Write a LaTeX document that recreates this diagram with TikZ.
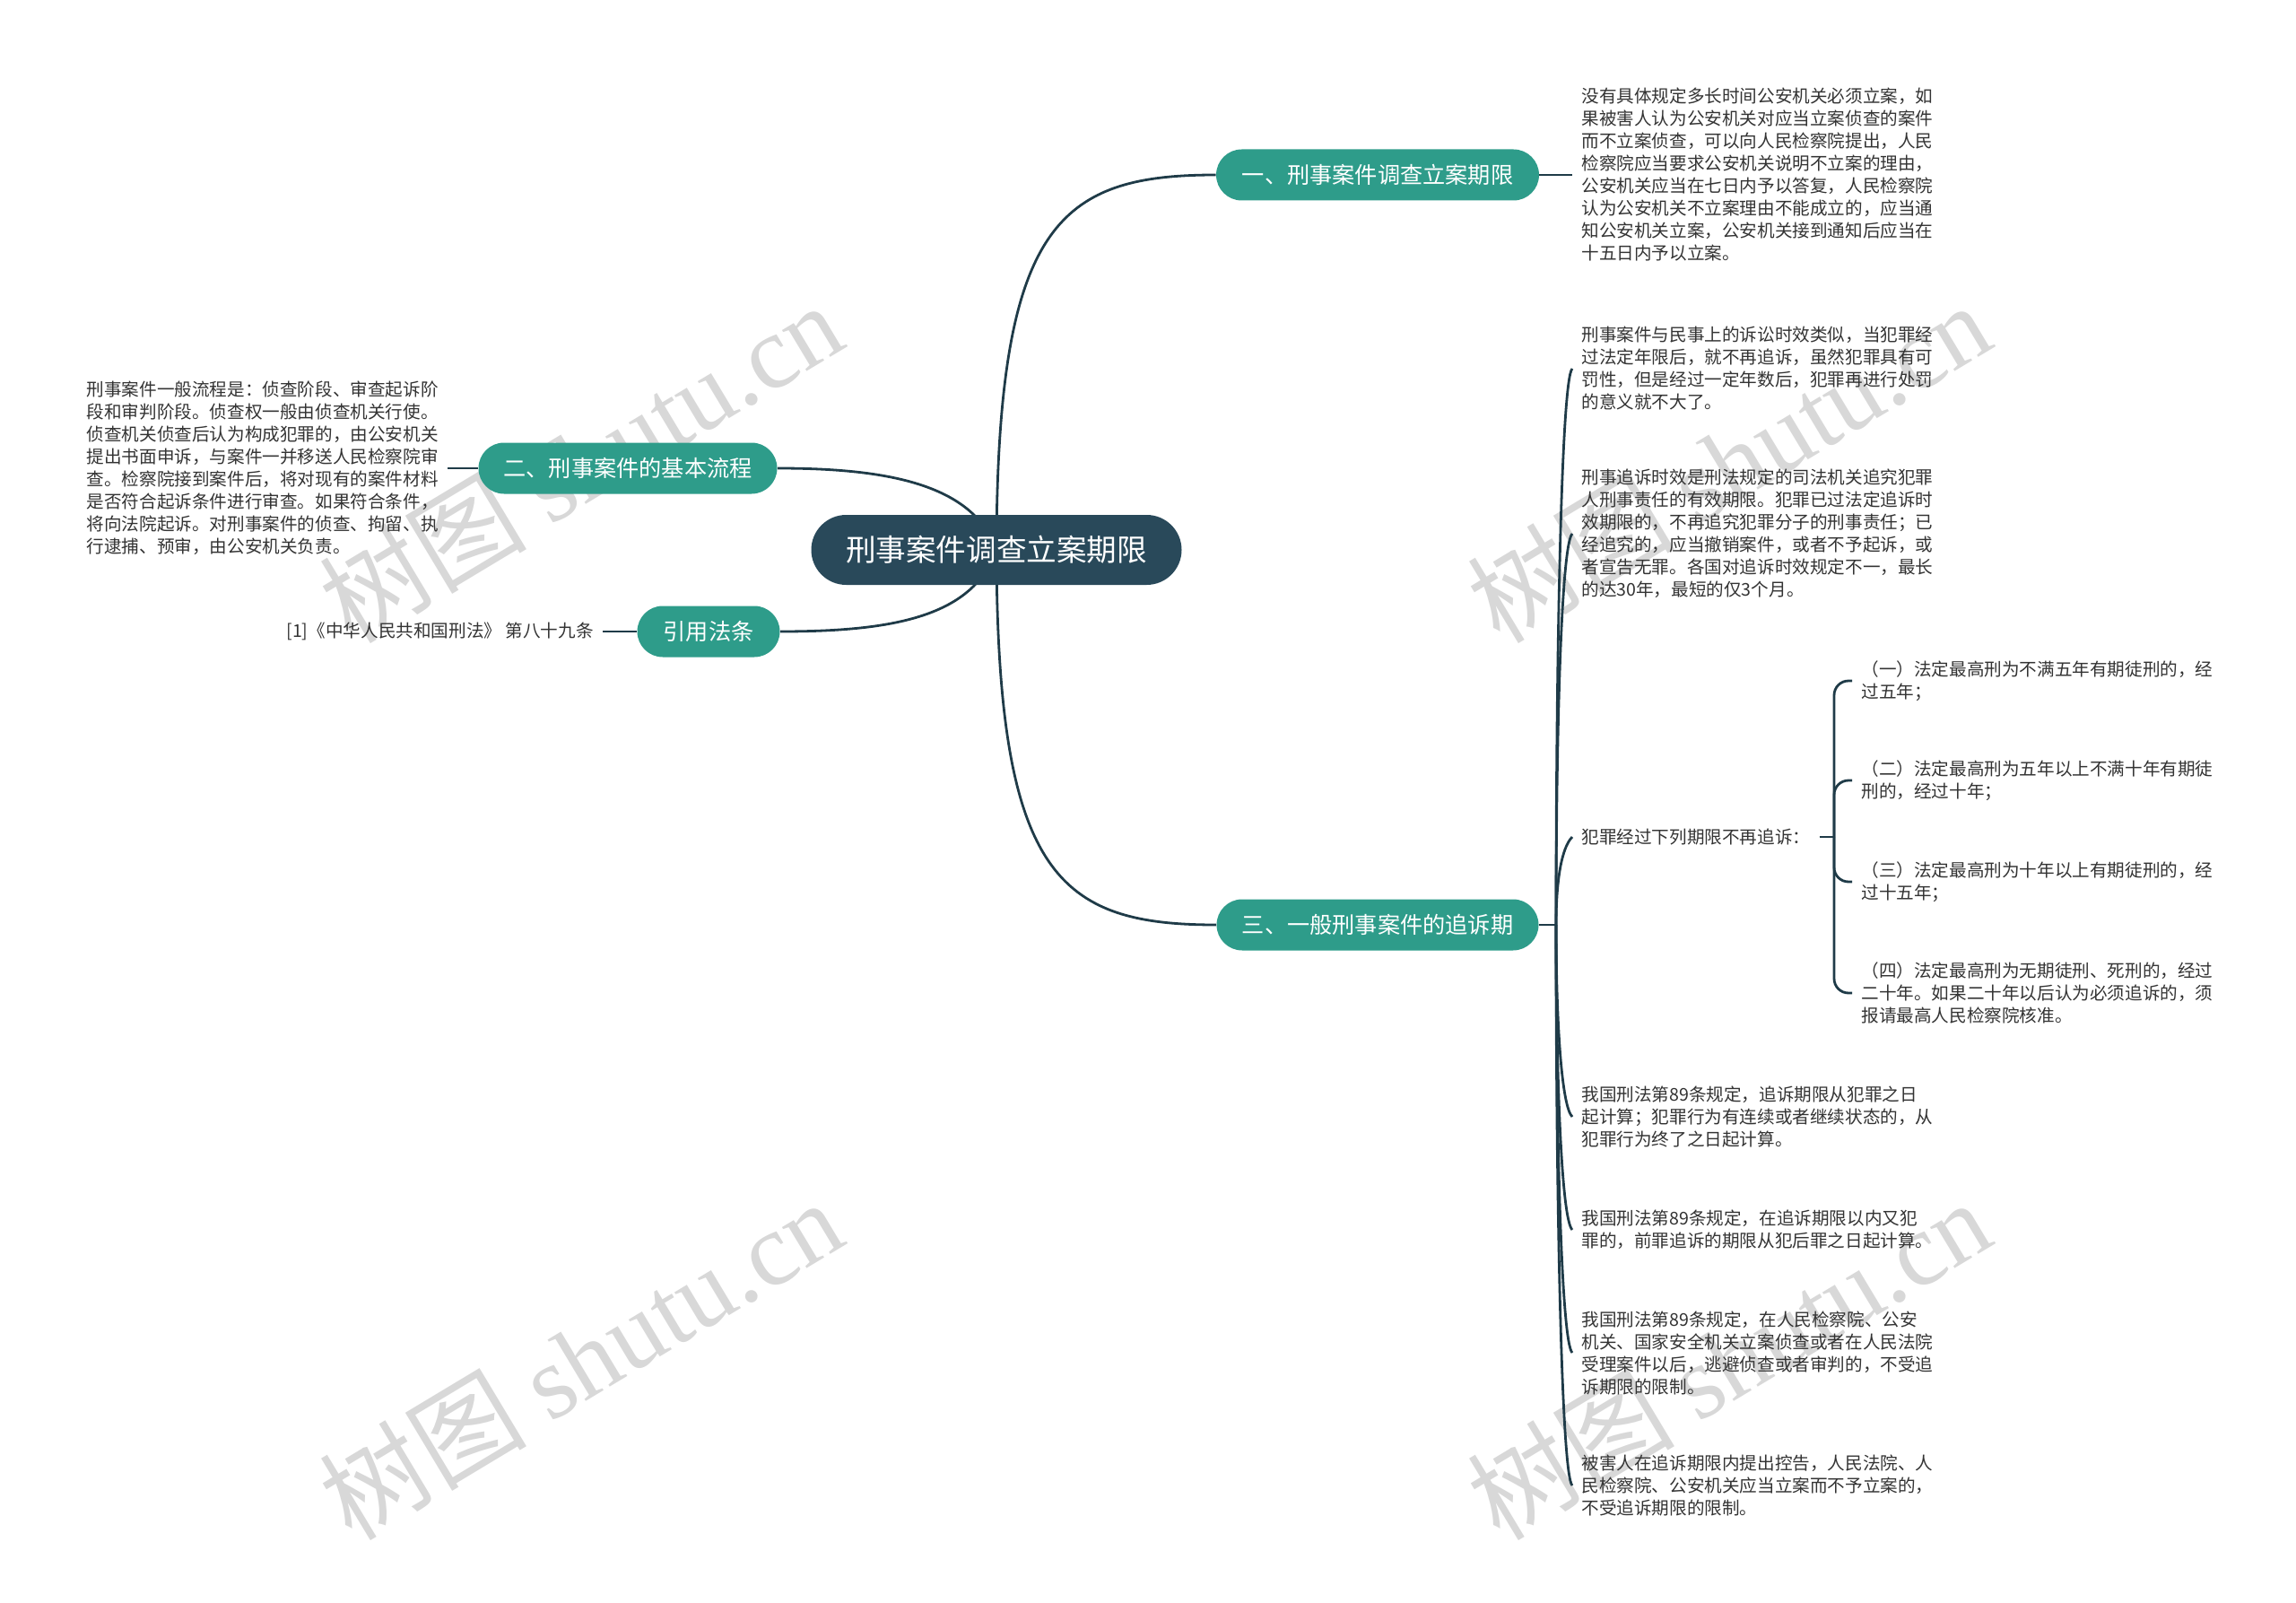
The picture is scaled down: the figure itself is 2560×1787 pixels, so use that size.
\documentclass[tikz,border=0pt]{standalone}
\usepackage{fontspec}
\setmainfont{Noto Sans CJK SC}
\newfontfamily\wmlatin{Liberation Serif}
\usetikzlibrary{calc}
\definecolor{maincol}{HTML}{29495A}
\definecolor{brcol}{HTML}{2E9C8A}
\definecolor{linecol}{HTML}{1F3B48}
\definecolor{leafcol}{HTML}{333333}
\definecolor{wmcol}{HTML}{D8D8D8}
\pgfdeclarelayer{wmlayer}
\pgfdeclarelayer{bglayer}
\pgfsetlayers{wmlayer,bglayer,main}
\begin{document}
\begin{tikzpicture}[x=0.5pt,y=-0.5pt,
  mainbox/.style={fill=maincol, text=white, rounded corners=19.5pt, minimum width=206.5pt, minimum height=39pt, inner sep=0pt, font=\fontsize{16.8pt}{20pt}\selectfont},
  branch/.style={fill=brcol, text=white, rounded corners=14.25pt, minimum height=28.5pt, inner sep=0pt, font=\fontsize{12.6pt}{15pt}\selectfont},
  leaf/.style={text=leafcol, align=left, inner xsep=5pt, inner ysep=0pt, font=\fontsize{9.8pt}{12.5pt}\selectfont},
  conn/.style={draw=linecol, line width=1.4pt},
  wm/.style={text=wmcol, rotate=31, inner sep=0pt, font=\fontsize{58pt}{66pt}\selectfont}
]
\useasboundingbox (0,0) rectangle (2560,1787);

% watermarks
\begin{pgfonlayer}{wmlayer}
\node[wm] (w1) at (647,515) {树图 {\wmlatin shutu.cn}};
\node[wm] (w2) at (1927,515) {树图 {\wmlatin shutu.cn}};
\node[wm] (w3) at (647,1515) {树图 {\wmlatin shutu.cn}};
\node[wm] (w4) at (1927,1515) {树图 {\wmlatin shutu.cn}};
\end{pgfonlayer}

% main and branch nodes
\node[mainbox] (m) at (1111,613) {刑事案件调查立案期限};
\node[branch, minimum width=180pt] (b1) at (1536,195) {一、刑事案件调查立案期限};
\node[branch, minimum width=166.5pt] (b2) at (700,522) {二、刑事案件的基本流程};
\node[branch, minimum width=79.5pt] (b4) at (790,704) {引用法条};
\node[branch, minimum width=179.5pt] (b3) at (1536,1031) {三、一般刑事案件的追诉期};

% leaves
\node[leaf, anchor=west] (l1) at (1753,195) {没有具体规定多长时间公安机关必须立案，如\\果被害人认为公安机关对应当立案侦查的案件\\而不立案侦查，可以向人民检察院提出，人民\\检察院应当要求公安机关说明不立案的理由，\\公安机关应当在七日内予以答复，人民检察院\\认为公安机关不立案理由不能成立的，应当通\\知公安机关立案，公安机关接到通知后应当在\\十五日内予以立案。};

\node[leaf, anchor=east] (l2) at (499,522) {刑事案件一般流程是：侦查阶段、审查起诉阶\\段和审判阶段。侦查权一般由侦查机关行使。\\侦查机关侦查后认为构成犯罪的，由公安机关\\提出书面申诉，与案件一并移送人民检察院审\\查。检察院接到案件后，将对现有的案件材料\\是否符合起诉条件进行审查。如果符合条件，\\将向法院起诉。对刑事案件的侦查、拘留、执\\行逮捕、预审，由公安机关负责。};

\node[leaf, anchor=east] (l4) at (672,704) {[1]《中华人民共和国刑法》 第八十九条};

\node[leaf, anchor=west] (l3a) at (1753,411) {刑事案件与民事上的诉讼时效类似，当犯罪经\\过法定年限后，就不再追诉，虽然犯罪具有可\\罚性，但是经过一定年数后，犯罪再进行处罚\\的意义就不大了。};
\node[leaf, anchor=west] (l3b) at (1753,595) {刑事追诉时效是刑法规定的司法机关追究犯罪\\人刑事责任的有效期限。犯罪已过法定追诉时\\效期限的，不再追究犯罪分子的刑事责任；已\\经追究的，应当撤销案件，或者不予起诉，或\\者宣告无罪。各国对追诉时效规定不一，最长\\的达30年，最短的仅3个月。};
\node[leaf, anchor=west] (l3c) at (1753,933) {犯罪经过下列期限不再追诉：};
\node[leaf, anchor=west] (l3d) at (1753,1245) {我国刑法第89条规定，追诉期限从犯罪之日\\起计算；犯罪行为有连续或者继续状态的，从\\犯罪行为终了之日起计算。};
\node[leaf, anchor=west] (l3e) at (1753,1371) {我国刑法第89条规定，在追诉期限以内又犯\\罪的，前罪追诉的期限从犯后罪之日起计算。};
\node[leaf, anchor=west] (l3f) at (1753,1508) {我国刑法第89条规定，在人民检察院、公安\\机关、国家安全机关立案侦查或者在人民法院\\受理案件以后，逃避侦查或者审判的，不受追\\诉期限的限制。};
\node[leaf, anchor=west] (l3g) at (1753,1656) {被害人在追诉期限内提出控告，人民法院、人\\民检察院、公安机关应当立案而不予立案的，\\不受追诉期限的限制。};

\node[leaf, anchor=west] (s1) at (2065,759) {（一）法定最高刑为不满五年有期徒刑的，经\\过五年；};
\node[leaf, anchor=west] (s2) at (2065,870) {（二）法定最高刑为五年以上不满十年有期徒\\刑的，经过十年；};
\node[leaf, anchor=west] (s3) at (2065,983) {（三）法定最高刑为十年以上有期徒刑的，经\\过十五年；};
\node[leaf, anchor=west] (s4) at (2065,1107) {（四）法定最高刑为无期徒刑、死刑的，经过\\二十年。如果二十年以后认为必须追诉的，须\\报请最高人民检察院核准。};

\coordinate (j3) at (1735,1031);
\coordinate (j4) at (2045,933);

% connectors
\begin{pgfonlayer}{bglayer}
\draw[conn] (m.center) .. controls (1112,250) and (1180,195) .. (b1.west);
\draw[conn] (m.center) .. controls (1112,976) and (1180,1031) .. (b3.west);
\draw[conn] (m.center) .. controls (1085,540) and (990,522) .. (b2.east);
\draw[conn] (m.center) .. controls (1085,686) and (1000,704) .. (b4.east);

\draw[conn] (b1.east) -- (l1.west);
\draw[conn] (b2.west) -- (l2.east);
\draw[conn] (b4.west) -- (l4.east);
\draw[conn] (b3.east) -- (j3);

\foreach \n in {l3a,l3b,l3c} {
  \draw[conn] (j3) .. controls ($(j3)!0.5!(j3 |- \n.west)$) and ($(\n.west)+(-12,12)$) .. (\n.west);
}
\foreach \n in {l3d,l3e,l3f,l3g} {
  \draw[conn] (j3) .. controls ($(j3)!0.5!(j3 |- \n.west)$) and ($(\n.west)+(-12,-12)$) .. (\n.west);
}
\draw[conn] (l3c.east) -- (j4);
\foreach \n in {s1,s2,s3,s4} {
  \draw[conn, rounded corners=8pt] (j4) |- (\n.west);
}
\end{pgfonlayer}
\end{tikzpicture}
\end{document}
